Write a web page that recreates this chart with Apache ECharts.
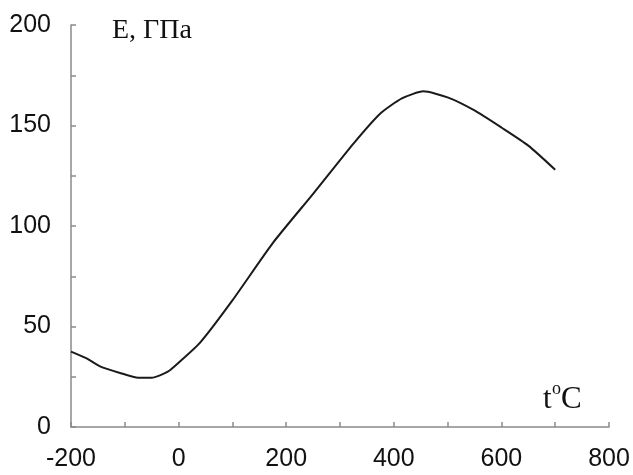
<!DOCTYPE html>
<html>
<head>
<meta charset="utf-8">
<script src="https://cdn.jsdelivr.net/npm/echarts@6/dist/echarts.min.js"></script>
<style>html,body{margin:0;padding:0;background:#fff}#c{width:633px;height:475px}</style>
</head>
<body>
<div id="c"></div>
<script>
// Temperature, °C
var temps = [-200, -170, -145, -110, -75, -50, -20, 0, 40, 100, 175, 250, 325, 375, 415, 455, 500, 550, 600, 650, 700];
// Young's modulus E, GPa
var modulus = [37.5, 34, 30, 27, 24.5, 24.5, 27.5, 32, 42, 63, 91.5, 116, 141, 156, 163.5, 167, 164, 157.5, 149, 140, 128];
var xTicks = [-200, 0, 200, 400, 600, 800];
var yTicks = [0, 50, 100, 150, 200];

var chart = echarts.init(document.getElementById('c'));
var axisCol = '#8a8a8a';
chart.setOption({
  animation: false,
  backgroundColor: '#fff',
  grid: {left: 71, right: 24, top: 25, bottom: 48, containLabel: false},
  xAxis: {
    type: 'value', min: -200, max: 800, interval: 100,
    axisLine: {show: true, onZero: false, lineStyle: {color: axisCol, width: 1.5}},
    axisTick: {show: true, inside: true, length: 5, lineStyle: {color: axisCol, width: 1.5}},
    splitLine: {show: false},
    axisLabel: {
      margin: 20, color: '#111', fontSize: 25, fontFamily: 'Liberation Sans, Arial',
      formatter: function (v) { return xTicks.indexOf(v) >= 0 ? String(v) : ''; }
    }
  },
  yAxis: {
    type: 'value', min: 0, max: 200, interval: 25,
    axisLine: {show: true, onZero: false, lineStyle: {color: axisCol, width: 1.5}},
    axisTick: {show: true, inside: true, length: 5, lineStyle: {color: axisCol, width: 1.5}},
    splitLine: {show: false},
    axisLabel: {
      margin: 20, color: '#111', fontSize: 25, fontFamily: 'Liberation Sans, Arial',
      formatter: function (v) { return yTicks.indexOf(v) >= 0 ? String(v) : ''; }
    }
  },
  series: [{
    type: 'line',
    data: temps.map(function (t, i) { return [t, modulus[i]]; }),
    smooth: 0.2,
    showSymbol: false,
    lineStyle: {color: '#1a1a1a', width: 2}
  }],
  graphic: [
    {type: 'text', left: 112, top: 17, style: {text: 'E, ГПа', font: '28px "Liberation Serif", "Times New Roman", serif', fill: '#111'}},
    {type: 'text', left: 543, top: 384, style: {text: 't', font: '31px "Liberation Serif", "Times New Roman", serif', fill: '#111'}},
    {type: 'text', left: 552, top: 380, style: {text: 'o', font: '18px "Liberation Serif", "Times New Roman", serif', fill: '#111'}},
    {type: 'text', left: 561, top: 384, style: {text: 'C', font: '31px "Liberation Serif", "Times New Roman", serif', fill: '#111'}}
  ]
});
</script>
</body>
</html>
